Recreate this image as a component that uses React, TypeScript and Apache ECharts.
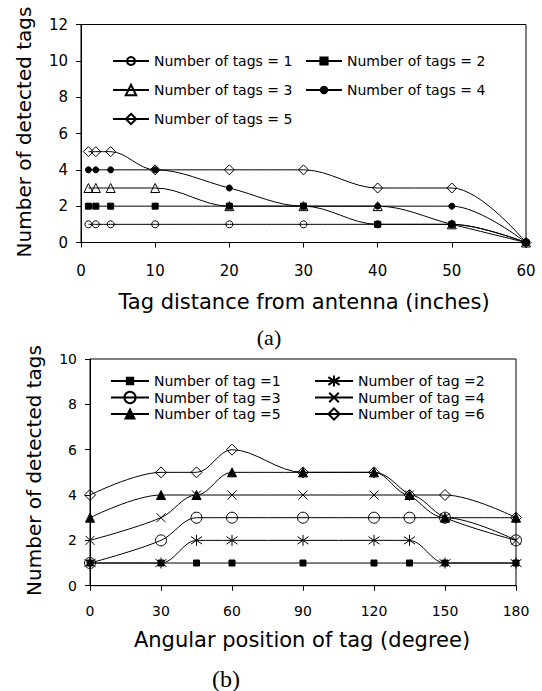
import React, { useEffect, useRef } from "react";
import * as echarts from "echarts";

// ---------- data: chart (a) ----------
const distances = [1, 2, 4, 10, 20, 30, 40, 50, 60];
const distNames = [
  "Number of tags = 1",
  "Number of tags = 2",
  "Number of tags = 3",
  "Number of tags = 4",
  "Number of tags = 5",
];
const distTags1 = [1, 1, 1, 1, 1, 1, 1, 1, 0];
const distTags2 = [2, 2, 2, 2, 2, 2, 1, 1, 0];
const distTags3 = [3, 3, 3, 3, 2, 2, 2, 1, 0];
const distTags4 = [4, 4, 4, 4, 3, 2, 2, 2, 0];
const distTags5 = [5, 5, 5, 4, 4, 4, 3, 3, 0];

// ---------- data: chart (b) ----------
const angles = [0, 30, 45, 60, 90, 120, 135, 150, 180];
const angNames = [
  "Number of tag =1",
  "Number of tag =2",
  "Number of tag =3",
  "Number of tag =4",
  "Number of tag =5",
  "Number of tag =6",
];
const angTag1 = [1, 1, 1, 1, 1, 1, 1, 1, 1];
const angTag2 = [1, 1, 2, 2, 2, 2, 2, 1, 1];
const angTag3 = [1, 2, 3, 3, 3, 3, 3, 3, 2];
const angTag4 = [2, 3, 4, 4, 4, 4, 4, 3, 2];
const angTag5 = [3, 4, 4, 5, 5, 5, 4, 3, 3];
const angTag6 = [4, 5, 5, 6, 5, 5, 4, 4, 3];

const FONT = "'DejaVu Sans', sans-serif";
const SERIF = "'Liberation Serif', 'Times New Roman', serif";

const STAR = "path://M5 0L5 10M0.6 1.6L9.4 8.4M0.6 8.4L9.4 1.6";
const CROSS = "path://M0 0L10 10M0 10L10 0";

type Mk = { symbol: string; size: number; filled: boolean; legendH: number };

const distMarks: Mk[] = [
  { symbol: "circle", size: 7, filled: false, legendH: 10 },
  { symbol: "rect", size: 6, filled: true, legendH: 9 },
  { symbol: "triangle", size: 9, filled: false, legendH: 13 },
  { symbol: "circle", size: 6, filled: true, legendH: 8 },
  { symbol: "diamond", size: 10, filled: false, legendH: 13 },
];
const angMarks: Mk[] = [
  { symbol: "rect", size: 6, filled: true, legendH: 8 },
  { symbol: STAR, size: 11, filled: false, legendH: 14 },
  { symbol: "circle", size: 11, filled: false, legendH: 14 },
  { symbol: CROSS, size: 9, filled: false, legendH: 12 },
  { symbol: "triangle", size: 9, filled: true, legendH: 11 },
  { symbol: "diamond", size: 11, filled: false, legendH: 14 },
];

function mkSeries(
  name: string,
  xs: number[],
  ys: number[],
  mk: Mk,
  idx: number
) {
  return {
    type: "line",
    name,
    xAxisIndex: idx,
    yAxisIndex: idx,
    data: xs.map((x, i) => [x, ys[i]]),
    smooth: 0.35,
    clip: false,
    symbol: mk.symbol,
    symbolSize: mk.size,
    showAllSymbol: true,
    lineStyle: { color: "#000", width: 1 },
    itemStyle: {
      color: mk.filled ? "#000" : "rgba(0,0,0,0)",
      borderColor: "#000",
      borderWidth: 1,
    },
    emphasis: { disabled: true },
    silent: true,
  };
}

function mkLegend(
  name: string,
  left: number,
  rowCenter: number,
  itemWidth: number,
  itemHeight: number,
  fontSize: number,
  lineHeight: number
) {
  const h = Math.max(itemHeight, lineHeight);
  return {
    data: [name],
    left,
    top: rowCenter - h / 2,
    padding: 0,
    itemWidth,
    itemHeight,
    selectedMode: false,
    textStyle: { color: "#000", fontFamily: FONT, fontSize, lineHeight },
  };
}

export default function App() {
  const ref = useRef<HTMLDivElement>(null);
  useEffect(() => {
    if (!ref.current) return;
    const chart = echarts.init(ref.current, undefined, { renderer: "svg" });

    const axisCommon = (fontSize: number, margin: number) => ({
      type: "value",
      axisLine: { show: true, onZero: false, lineStyle: { color: "#000", width: 1 } },
      axisTick: { show: true, inside: false, length: 5, lineStyle: { color: "#000" } },
      axisLabel: { color: "#000", fontFamily: FONT, fontSize, margin },
      splitLine: { show: false },
    });

    const distVals = [distTags1, distTags2, distTags3, distTags4, distTags5];
    const angVals = [angTag1, angTag2, angTag3, angTag4, angTag5, angTag6];

    const series: any[] = [];
    distVals.forEach((v, i) => series.push(mkSeries(distNames[i], distances, v, distMarks[i], 0)));
    angVals.forEach((v, i) => series.push(mkSeries(angNames[i], angles, v, angMarks[i], 1)));

    const legends: any[] = [];
    const topCols = [112, 305];
    const topRows = [61, 90, 119];
    distNames.forEach((n, i) =>
      legends.push(mkLegend(n, topCols[i % 2], topRows[Math.floor(i / 2)], 36, distMarks[i].legendH, 14, 14))
    );
    const botCols = [110, 314];
    const botRows = [381, 397.5, 414];
    angNames.forEach((n, i) =>
      legends.push(mkLegend(n, botCols[i % 2], botRows[Math.floor(i / 2)], 38, angMarks[i].legendH, 14, 14))
    );

    const option: any = {
      animation: false,
      backgroundColor: "#fff",
      grid: [
        { left: 81, top: 24.5, width: 445, height: 218, show: true, borderColor: "#000", borderWidth: 1, containLabel: false },
        { left: 90, top: 359, width: 426, height: 226.7, show: true, borderColor: "#000", borderWidth: 1, containLabel: false },
      ],
      xAxis: [
        { ...axisCommon(15, 21), gridIndex: 0, min: 0, max: 60, interval: 10 },
        { ...axisCommon(14, 18), gridIndex: 1, min: 0, max: 180, interval: 30 },
      ],
      yAxis: [
        { ...axisCommon(15, 13), gridIndex: 0, min: 0, max: 12, interval: 2 },
        { ...axisCommon(14, 13), gridIndex: 1, min: 0, max: 10, interval: 2 },
      ],
      legend: legends,
      series,
      graphic: [
        {
          type: "text", x: 304, y: 302,
          style: { text: "Tag distance from antenna (inches)", font: `21px ${FONT}`, fill: "#000", align: "center", verticalAlign: "middle" },
        },
        {
          type: "text", x: 23.5, y: 132, rotation: Math.PI / 2,
          style: { text: "Number of detected tags", font: `20px ${FONT}`, fill: "#000", align: "center", verticalAlign: "middle" },
        },
        {
          type: "text", x: 269, y: 337,
          style: { text: "(a)", font: `22px ${SERIF}`, fill: "#000", align: "center", verticalAlign: "middle" },
        },
        {
          type: "text", x: 302, y: 640,
          style: { text: "Angular position of tag (degree)", font: `21px ${FONT}`, fill: "#000", align: "center", verticalAlign: "middle" },
        },
        {
          type: "text", x: 33.5, y: 470.5, rotation: Math.PI / 2,
          style: { text: "Number of detected tags", font: `20px ${FONT}`, fill: "#000", align: "center", verticalAlign: "middle" },
        },
        {
          type: "text", x: 226, y: 679,
          style: { text: "(b)", font: `24px ${SERIF}`, fill: "#000", align: "center", verticalAlign: "middle" },
        },
      ],
    };
    chart.setOption(option);
    return () => chart.dispose();
  }, []);
  return (
    <div
      ref={ref}
      style={{ position: "fixed", left: 0, top: 0, width: 542, height: 691, background: "#fff" }}
    />
  );
}
